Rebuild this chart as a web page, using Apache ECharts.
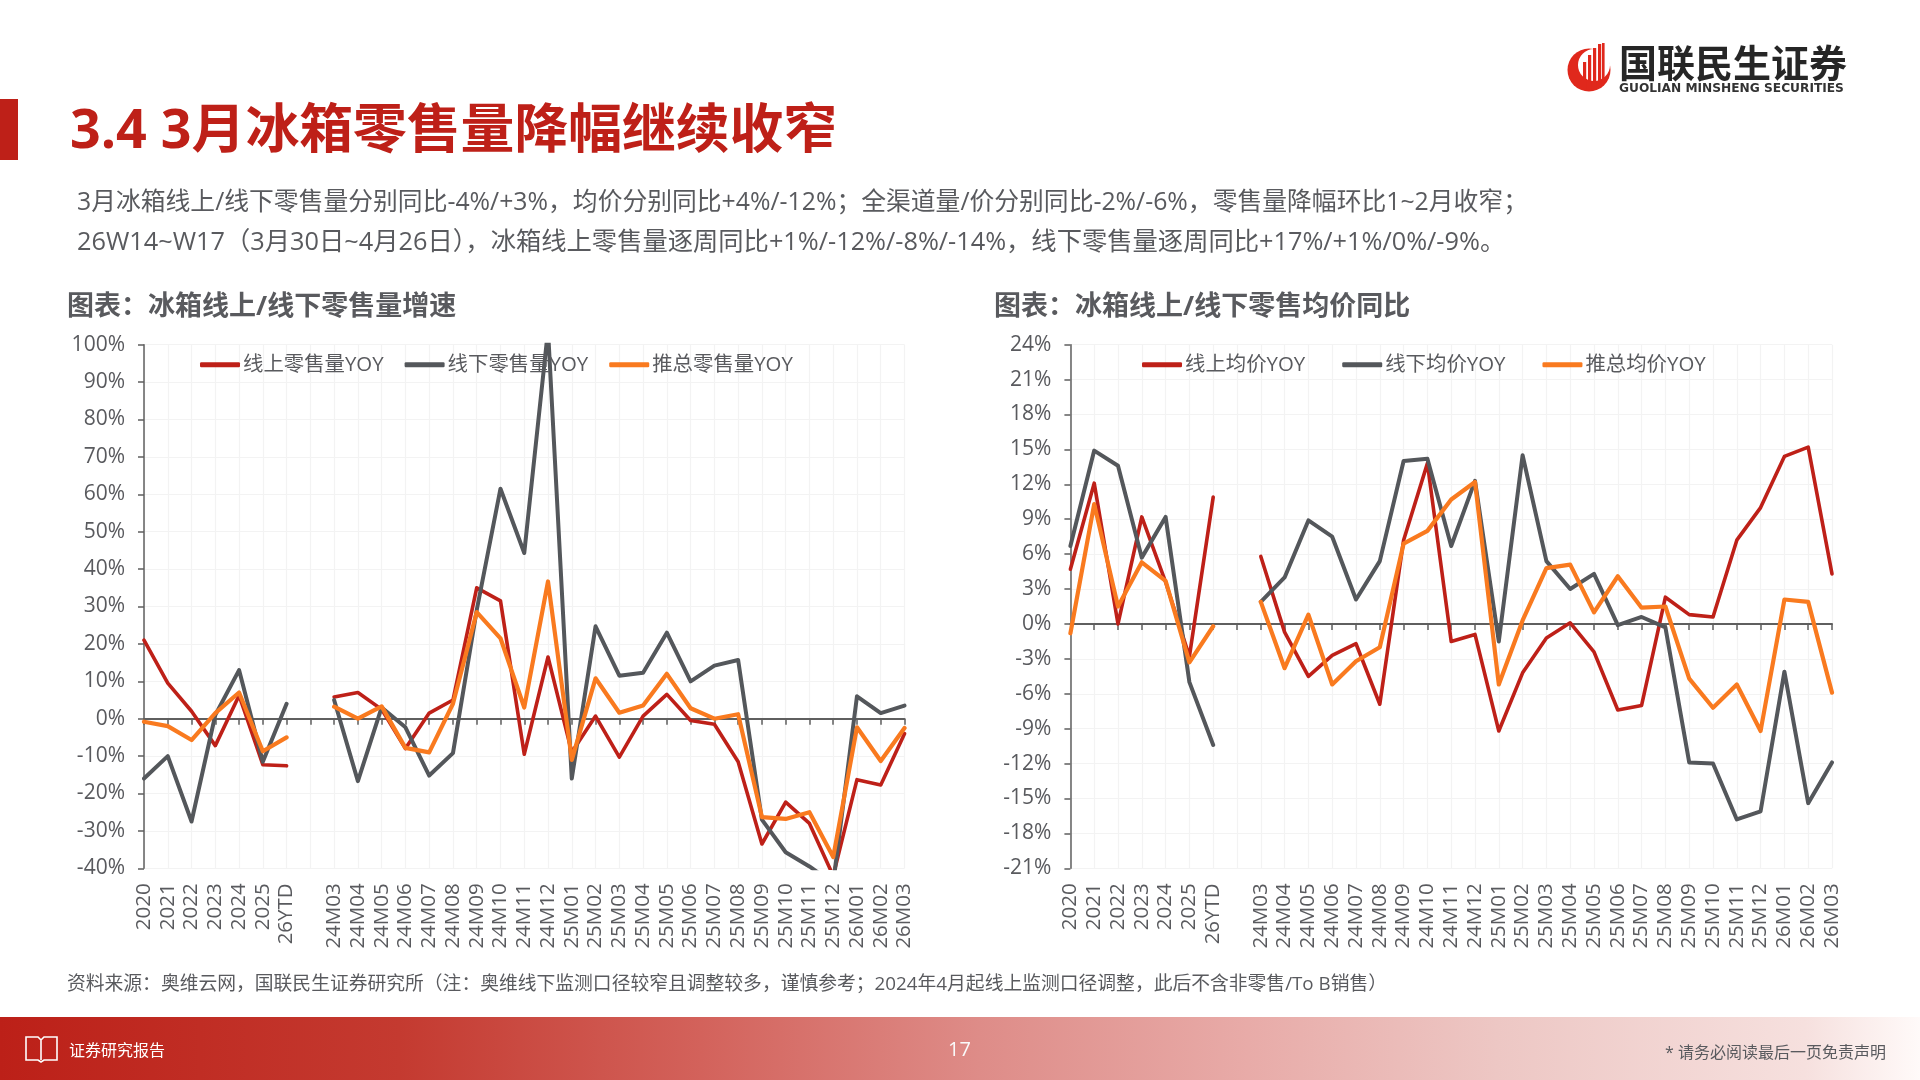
<!DOCTYPE html>
<html><head><meta charset="utf-8"><title>3月冰箱零售量</title>
<style>html,body{margin:0;padding:0;background:#fff}#c{width:1920px;height:1080px}</style>
<script src="https://cdn.jsdelivr.net/npm/echarts@6/dist/echarts.min.js"></script>
</head><body><div id="c"></div>
<script>
// X axis: annual points, a one-slot gap, then monthly points
const categories = ['2020','2021','2022','2023','2024','2025','26YTD',' ',
  '24M03','24M04','24M05','24M06','24M07','24M08','24M09','24M10','24M11','24M12',
  '25M01','25M02','25M03','25M04','25M05','25M06','25M07','25M08','25M09','25M10','25M11','25M12',
  '26M01','26M02','26M03'];

// Retail volume, YoY %
const volumeOnline = [21,9.5,2,-7.2,6.2,-12.3,-12.6,null,
  5.8,7,2.5,-8,1.5,5,35,31.5,-9.5,16.5,
  -9,0.7,-10.3,0.7,6.5,-0.5,-1.5,-11.5,-33.5,-22.3,-28,-42,
  -16.3,-17.7,-4];
const volumeOffline = [-16,-10,-27.5,1,13,-11.5,4,null,
  5,-16.7,3,-2.3,-15.2,-9.2,29,61.5,44.3,104,
  -16,24.7,11.5,12.3,23,10,14.2,15.7,-27,-35.7,-39.5,-44,
  6,1.5,3.5];
const volumeTotal = [-0.8,-2,-5.7,1.5,7,-8.7,-5,null,
  3.2,0,3.3,-7.8,-9,4,28.5,21.5,3,36.7,
  -11,10.8,1.6,3.5,12,2.8,0,1.2,-26.3,-26.8,-25,-37,
  -2.3,-11.3,-2.5];

// Average selling price, YoY %
const priceOnline = [4.7,12.1,0,9.2,3.6,-2.8,10.9,null,
  5.8,-0.7,-4.5,-2.7,-1.7,-6.9,7.2,13.8,-1.5,-0.9,
  -9.2,-4.2,-1.2,0.1,-2.4,-7.4,-7,2.3,0.8,0.6,7.2,10,
  14.4,15.2,4.3];
const priceOffline = [6.7,14.9,13.6,5.7,9.2,-5,-10.4,null,
  1.9,4,8.9,7.5,2.1,5.4,14,14.2,6.7,12.3,
  -1.5,14.5,5.4,3,4.3,-0.1,0.6,-0.3,-11.9,-12,-16.8,-16.1,
  -4.1,-15.4,-11.9];
const priceTotal = [-0.8,10.3,1.5,5.3,3.7,-3.3,-0.2,null,
  1.9,-3.8,0.8,-5.2,-3.2,-2,6.9,8,10.7,12.2,
  -5.2,0.3,4.8,5.1,1,4.1,1.4,1.5,-4.7,-7.2,-5.2,-9.2,
  2.1,1.9,-5.9];

const RED = '#BE2018', GREY = '#54575B', ORANGE = '#F97A1F', TEXT = '#595A5E', LIGHT = '#F3F3F3';
const FONT = '"Open Sans","Noto Sans CJK SC",sans-serif';

function makeGrid(left, right) {
  return { left, width: right - left, top: 344.7, height: 523.6, containLabel: false, outerBoundsMode: 'none' };
}
function makeX(idx) {
  return {
    type: 'category', gridIndex: idx, data: categories, boundaryGap: false,
    axisLine: { onZero: true, lineStyle: { color: '#5F5F5F', width: 2 } },
    axisTick: { show: true, length: 6, interval: 0, lineStyle: { color: '#5F5F5F', width: 1.5 } },
    axisLabel: { interval: 0, rotate: 90, margin: 15, fontSize: 20.5, color: TEXT, fontFamily: FONT, hideOverlap: false },
    splitLine: { show: true, interval: 0, lineStyle: { color: LIGHT, width: 1.2 } }
  };
}
function makeY(idx, min, max, interval) {
  return {
    type: 'value', gridIndex: idx, min, max, interval,
    axisLine: { show: true, onZero: false, lineStyle: { color: '#5F5F5F', width: 1.5 } },
    axisTick: { show: true, length: 6, lineStyle: { color: '#5F5F5F', width: 1.5 } },
    axisLabel: { formatter: '{value}%', margin: 19, fontSize: 21, color: TEXT, fontFamily: FONT },
    splitLine: { show: true, lineStyle: { color: LIGHT, width: 1.2 } }
  };
}
function makeLine(name, data, color, idx, width) {
  return {
    type: 'line', name, data, xAxisIndex: idx, yAxisIndex: idx,
    showSymbol: false, connectNulls: false, smooth: false, clip: true,
    lineStyle: { color, width, join: 'round', cap: 'round' }, itemStyle: { color },
    animation: false
  };
}
function makeLegend(names, left, gap) {
  return {
    data: names, left, top: 354.5, itemWidth: 40, itemHeight: 5, itemGap: gap, icon: 'roundRect',
    padding: 0, textStyle: { fontSize: 20.4, color: TEXT, fontFamily: FONT, padding: [0, 0, 0, -2] }
  };
}

// Flat page furniture drawn through the graphic layer
const label = (text, x, y, size, fill, extra) => ({
  type: 'text', silent: true,
  style: Object.assign({ text, x, y, fill, verticalAlign: 'middle', align: 'left', font: `${size}px ${FONT}` }, extra || {})
});
const bold = (size) => ({ font: `bold ${size}px ${FONT}` });

const pageGraphics = [
  { type: 'rect', silent: true, shape: { x: 0, y: 99, width: 18, height: 61 }, style: { fill: RED } },
  label('3.4 3月冰箱零售量降幅继续收窄', 70, 133, 53.8, RED, bold(53.8)),
  label('3月冰箱线上/线下零售量分别同比-4%/+3%，均价分别同比+4%/-12%；全渠道量/价分别同比-2%/-6%，零售量降幅环比1~2月收窄；', 77, 203, 24.8, TEXT),
  label('26W14~W17（3月30日~4月26日），冰箱线上零售量逐周同比+1%/-12%/-8%/-14%，线下零售量逐周同比+17%/+1%/0%/-9%。', 77, 243, 25.3, TEXT),
  label('图表：冰箱线上/线下零售量增速', 67, 307.5, 27, TEXT, bold(27)),
  label('图表：冰箱线上/线下零售均价同比', 994, 307.5, 27, TEXT, bold(27)),
  label('资料来源：奥维云网，国联民生证券研究所（注：奥维线下监测口径较窄且调整较多，谨慎参考；2024年4月起线上监测口径调整，此后不含非零售/To B销售）', 67, 984.5, 18.8, TEXT),
  // Footer band
  { type: 'rect', silent: true, shape: { x: 0, y: 1017, width: 1920, height: 63 },
    style: { fill: new echarts.graphic.LinearGradient(0, 0, 1, 0, [
      { offset: 0, color: '#BC2018' }, { offset: 0.208, color: '#C43A30' },
      { offset: 0.365, color: '#D3625B' }, { offset: 0.51, color: '#DE8C88' },
      { offset: 0.65, color: '#E8ABA8' }, { offset: 0.78, color: '#EDC7C4' },
      { offset: 0.94, color: '#F6E0DE' }, { offset: 1, color: '#FFFAF9' }]) } },
  { type: 'polyline', silent: true, shape: { points: [[41,1040],[38,1037],[26,1037],[26,1060],[38,1060],[41,1062],[44,1060],[57,1060],[57,1037],[44,1037],[41,1040],[41,1060]] },
    style: { stroke: '#fff', lineWidth: 1.6, fill: null } },
  label('证券研究报告', 69, 1051, 16, '#fff'),
  label('17', 948, 1050, 20, '#FAFAFA'),
  label('* 请务必阅读最后一页免责声明', 1665, 1053, 16, TEXT),
  // Company mark
  { type: 'circle', silent: true, shape: { cx: 1589, cy: 70, r: 21.5 }, style: { fill: '#E0281C' } },
  { type: 'circle', silent: true, shape: { cx: 1594, cy: 65, r: 16 }, style: { fill: '#fff' } },
  { type: 'rect', silent: true, shape: { x: 1583, y: 62, width: 3.2, height: 28 }, style: { fill: '#E0281C' } },
  { type: 'rect', silent: true, shape: { x: 1588, y: 55, width: 3.2, height: 36 }, style: { fill: '#E0281C' } },
  { type: 'rect', silent: true, shape: { x: 1593, y: 48, width: 3.2, height: 42 }, style: { fill: '#E0281C' } },
  { type: 'rect', silent: true, shape: { x: 1598, y: 44, width: 3.2, height: 44 }, style: { fill: '#E0281C' } },
  { type: 'rect', silent: true, shape: { x: 1602, y: 43, width: 2.6, height: 40 }, style: { fill: '#E0281C' } },
  label('国联民生证券', 1619, 66.5, 38, '#262626', bold(38)),
  label('GUOLIAN MINSHENG SECURITIES', 1619, 88.5, 12.2, '#333', { font: 'bold 12.2px "DejaVu Sans",sans-serif' })
];

const chart = echarts.init(document.getElementById('c'), null, { renderer: 'canvas' });
chart.setOption({
  animation: false,
  backgroundColor: '#fff',
  grid: [makeGrid(144, 904.5), makeGrid(1070.4, 1832)],
  xAxis: [makeX(0), makeX(1)],
  yAxis: [makeY(0, -40, 100, 10), makeY(1, -21, 24, 3)],
  legend: [
    makeLegend(['线上零售量YOY','线下零售量YOY','推总零售量YOY'], 200, 21),
    makeLegend(['线上均价YOY','线下均价YOY','推总均价YOY'], 1142, 37)
  ],
  series: [
    makeLine('线上零售量YOY', volumeOnline, RED, 0, 3.6),
    makeLine('线下零售量YOY', volumeOffline, GREY, 0, 4),
    makeLine('推总零售量YOY', volumeTotal, ORANGE, 0, 4.2),
    makeLine('线上均价YOY', priceOnline, RED, 1, 3.6),
    makeLine('线下均价YOY', priceOffline, GREY, 1, 4),
    makeLine('推总均价YOY', priceTotal, ORANGE, 1, 4.2)
  ],
  graphic: pageGraphics
});
</script></body></html>
